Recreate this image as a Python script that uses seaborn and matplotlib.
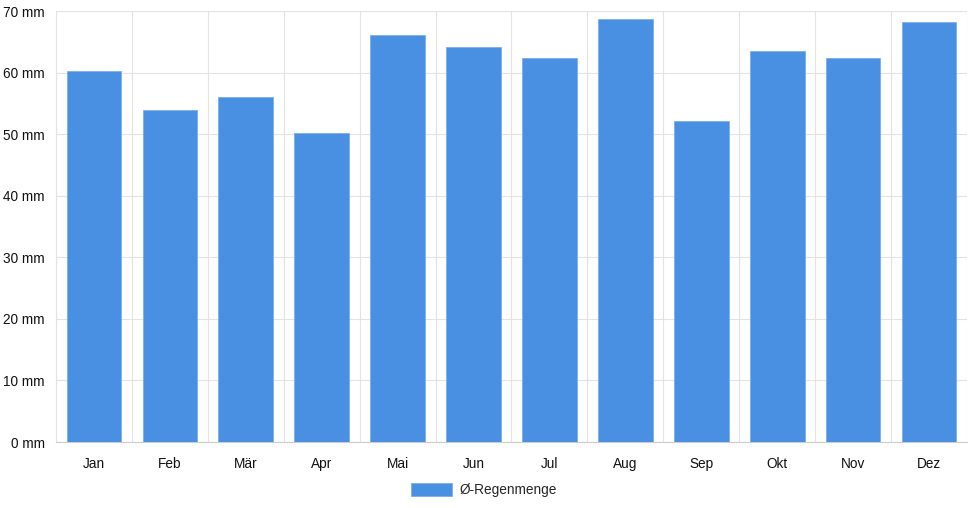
import matplotlib
matplotlib.use("Agg")
import matplotlib.pyplot as plt
import seaborn as sns
import pandas as pd
from matplotlib.patches import Patch
from matplotlib.ticker import FixedLocator

months = ["Jan", "Feb", "Mär", "Apr", "Mai", "Jun", "Jul", "Aug", "Sep", "Okt", "Nov", "Dez"]
rain = [60.3, 54.0, 56.0, 50.2, 66.1, 64.1, 62.3, 68.7, 52.2, 63.5, 62.3, 68.2]
series_label = "Ø-Regenmenge"
y_ticks = [0, 10, 20, 30, 40, 50, 60, 70]

BAR = "#4a90e2"
GRID = "#e3e3e3"
FS = 9.8

sns.set_style("white")
plt.rcParams["font.family"] = ["Liberation Sans", "DejaVu Sans"]

df = pd.DataFrame({"Monat": months, "Regen": rain})

fig = plt.figure(figsize=(9.68, 5.08), dpi=100)
ax = fig.add_axes([56 / 968, (508 - 442) / 508, (967 - 56) / 968, (442 - 11) / 508])

sns.barplot(data=df, x="Monat", y="Regen", color=BAR, saturation=1, width=0.72,
            edgecolor="#79aeec", linewidth=0.6, ax=ax, zorder=3)

ax.set_xlim(-0.5, len(months) - 0.5)
ax.set_ylim(0, 70)
ax.set_yticks(y_ticks)
ax.set_yticklabels([f"{v} mm" for v in y_ticks])
ax.set_xlabel("")
ax.set_ylabel("")

ax.xaxis.set_minor_locator(FixedLocator([i - 0.5 for i in range(len(months) + 1)]))
ax.grid(True, which="minor", axis="x", color=GRID, linewidth=0.8, zorder=0)
ax.grid(True, which="major", axis="y", color=GRID, linewidth=0.8, zorder=0)
ax.grid(False, which="major", axis="x")

ax.tick_params(axis="x", which="major", length=0, pad=10.5, labelsize=FS, colors="#111111")
ax.tick_params(axis="x", which="minor", length=5, color=GRID, width=0.8)
ax.tick_params(axis="y", which="major", length=5.8, color=GRID, width=0.8, pad=2.2,
               labelsize=FS, labelcolor="#111111")

for s in ["top", "right"]:
    ax.spines[s].set_visible(False)
ax.spines["left"].set_color(GRID)
ax.spines["bottom"].set_color("#cccccc")
ax.spines["left"].set_linewidth(0.8)
ax.spines["bottom"].set_linewidth(0.8)

handle = Patch(facecolor=BAR, edgecolor="#79aeec", linewidth=0.6, label=series_label)
fig.legend(handles=[handle], loc="center", bbox_to_anchor=(0.5, (508 - 490) / 508),
           frameon=False, fontsize=FS, handlelength=3.0, handleheight=1.1,
           handletextpad=0.5)

fig.savefig("out.png", dpi=100)
